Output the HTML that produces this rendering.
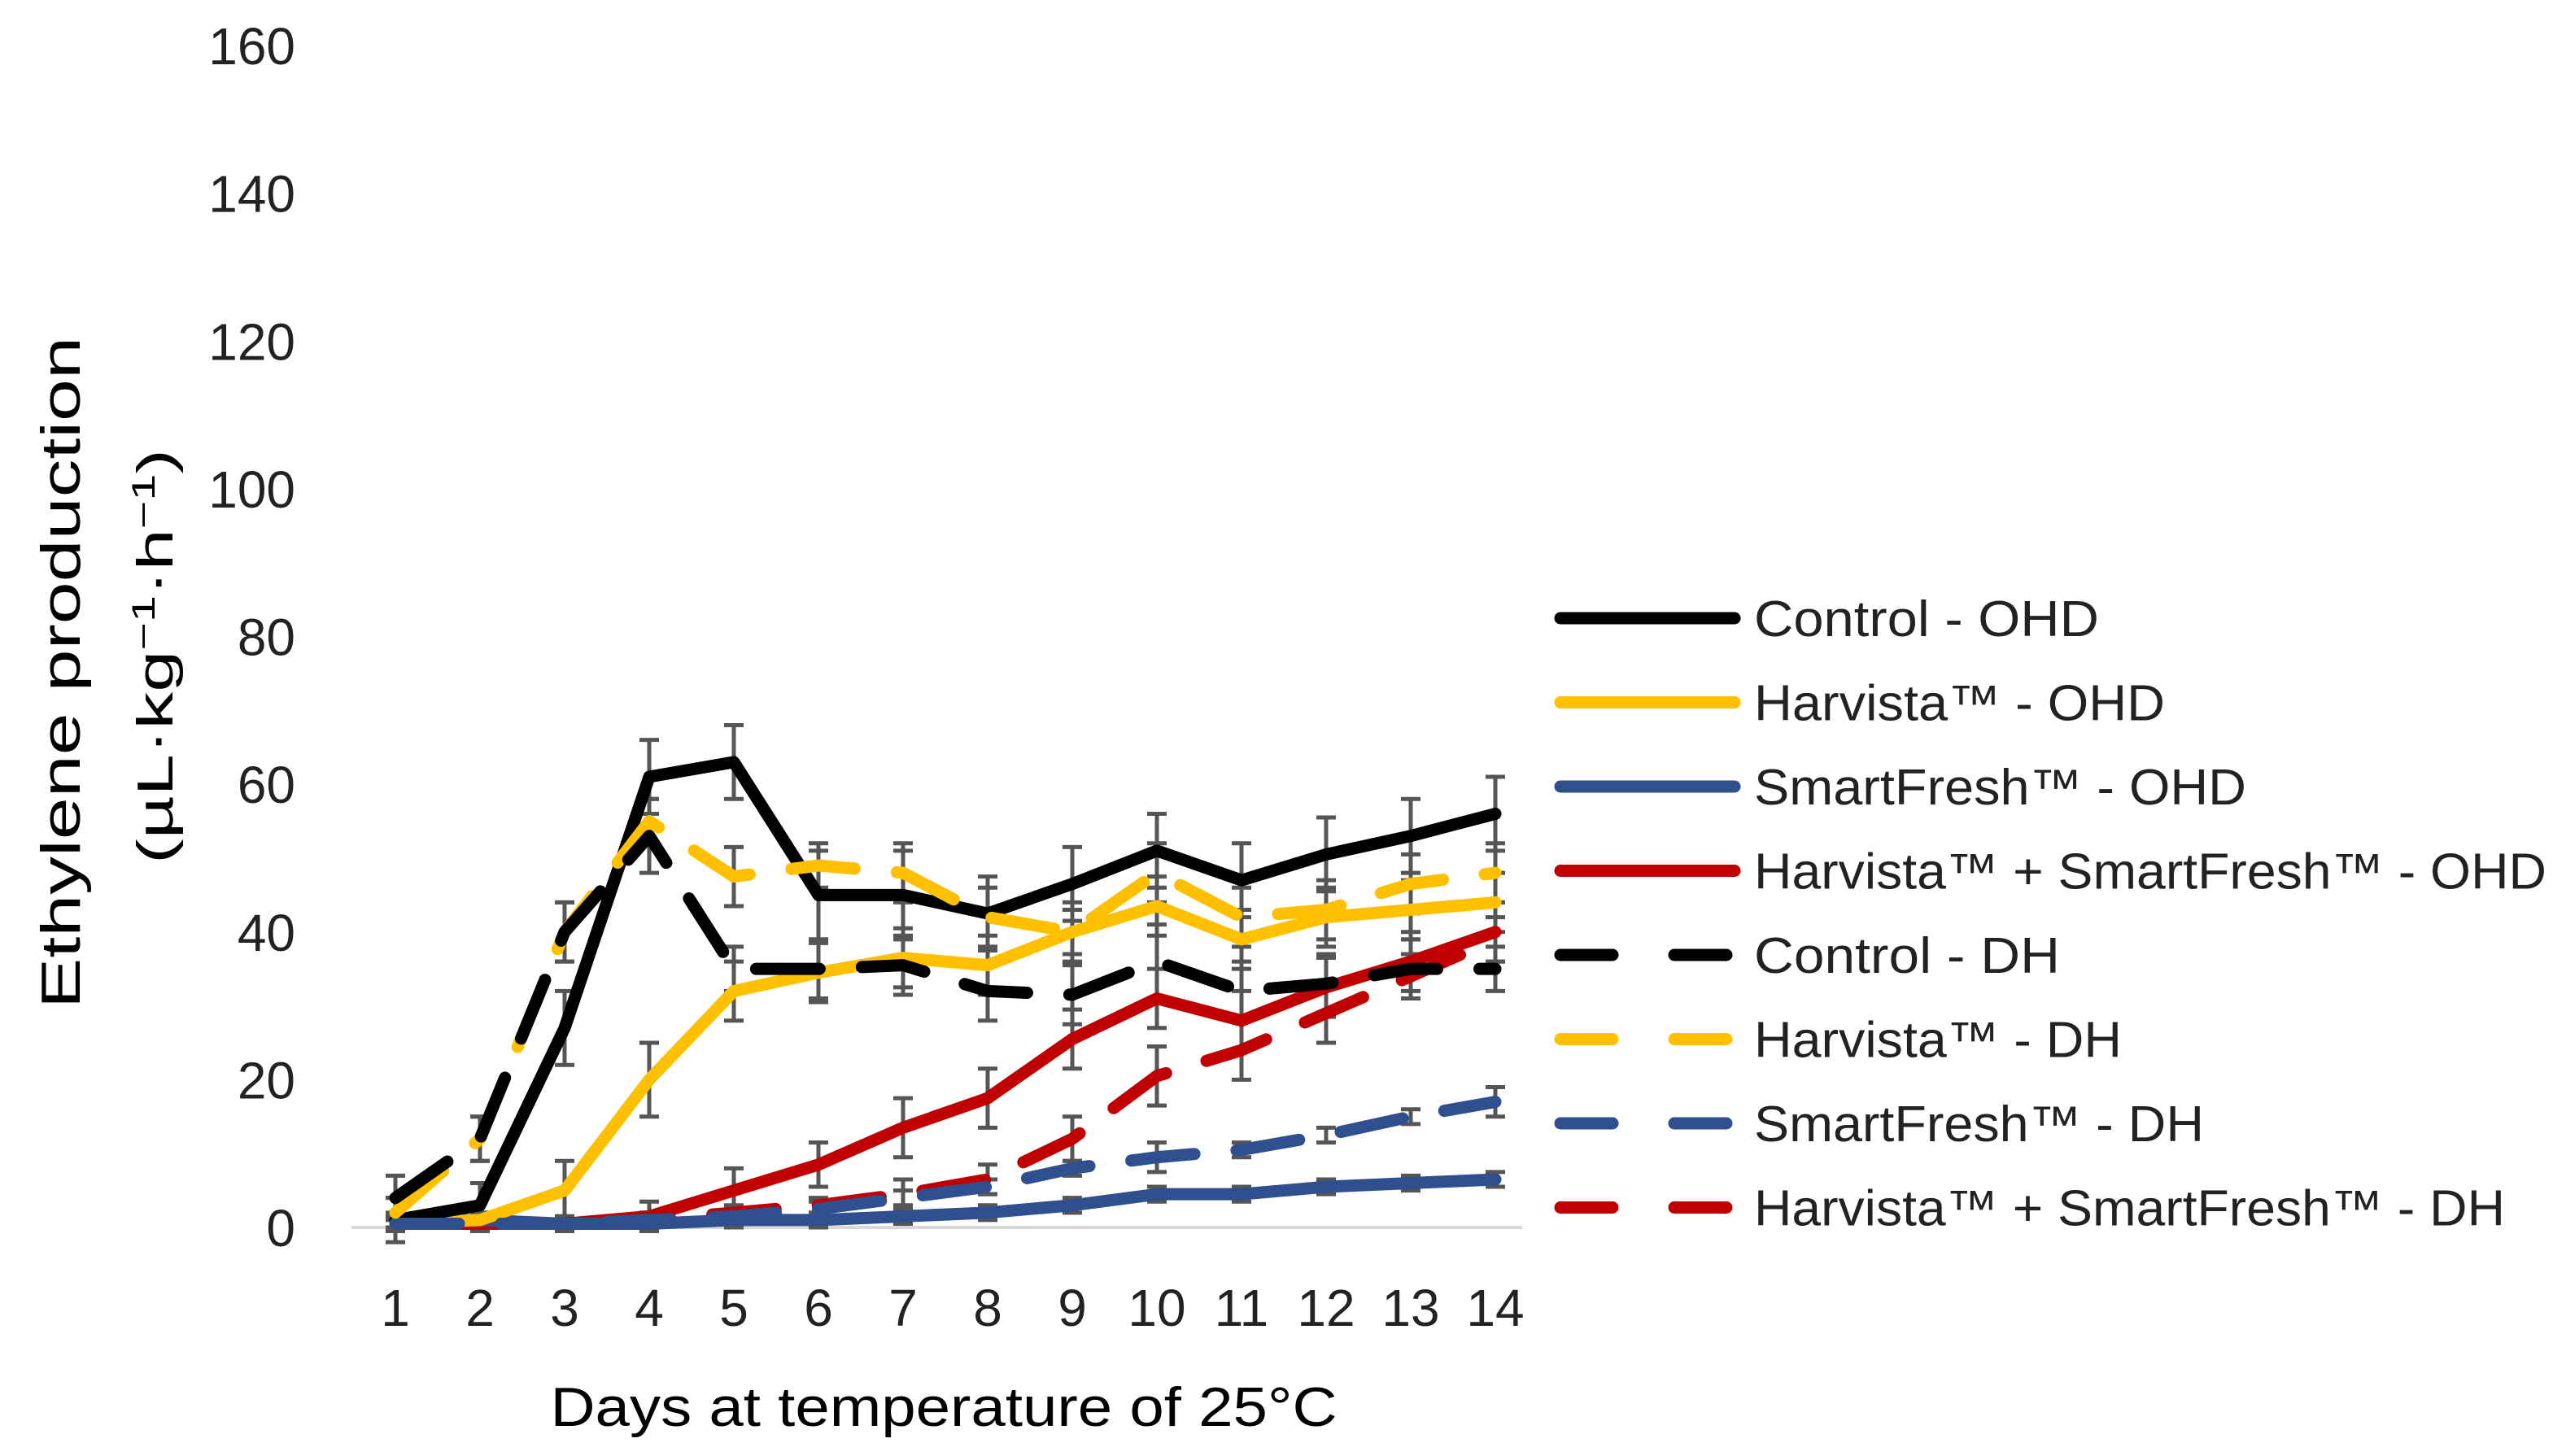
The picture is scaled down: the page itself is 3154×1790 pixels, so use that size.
<!DOCTYPE html>
<html><head><meta charset="utf-8"><style>
html,body{margin:0;padding:0;background:#fff;}
svg{display:block;font-family:"Liberation Sans",sans-serif;}
</style></head><body>
<svg id="chart" width="3154" height="1790" viewBox="0 0 3154 1790">
<g id="yticks"></g>
<g id="xticks"></g>
<line x1="432" y1="1509" x2="1871" y2="1509" stroke="#d9d9d9" stroke-width="4"/>
<g id="errs"></g>
<g id="lines"></g>
<text transform="translate(98,827) rotate(-90)" text-anchor="middle" font-size="68" textLength="826" lengthAdjust="spacingAndGlyphs">Ethylene production</text>
<text transform="translate(212,807) rotate(-90)" text-anchor="middle" font-size="62" textLength="510" lengthAdjust="spacingAndGlyphs">(µL·kg<tspan dy="-22" font-size="40">−1</tspan><tspan dy="22">·h</tspan><tspan dy="-22" font-size="40">−1</tspan><tspan dy="22">)</tspan></text>
<text x="1160" y="1753" text-anchor="middle" font-size="68" textLength="967" lengthAdjust="spacingAndGlyphs">Days at temperature of 25°C</text>
<g id="legend"></g>
</svg>
<script>
const days = [1,2,3,4,5,6,7,8,9,10,11,12,13,14];
const yTicks = [0,20,40,60,80,100,120,140,160];
const seriesNames = ["Control - OHD","Harvista™ - OHD","SmartFresh™ - OHD","Harvista™ + SmartFresh™ - OHD","Control - DH","Harvista™ - DH","SmartFresh™ - DH","Harvista™ + SmartFresh™ - DH"];
const controlOHD = [1,3,27,61,63,45,45,42.5,46.5,51,47,50.5,53,56];
const harvistaOHD = [0.5,1,5,20,32,34.5,36.5,35.5,40,43.5,39,42,43,44];
const smartOHD = [1,1,0.5,0.5,1,1,1.5,2,3,4.5,4.5,5.5,6,6.5];
const hsOHD = [0.5,0.5,0.5,1.5,5,8.5,13.5,17.5,25.5,31,28,32.5,36,40];
const controlDH = [4,12,40,53,35,35,35.5,32,31.5,36,32,33,35,35];
const harvistaDH = [2,12,40,55,47.5,49,48,42,40,48,42,43,46.5,48];
const smartDH = [0.5,0.5,0.5,1,1.5,2.5,4,5.5,8,9.5,10.5,12.5,15,17];
const hsDH = [0.5,0.5,0.5,1,2,3,4.5,6.5,12,20.5,24,29,34,39];
const controlOHDErr = [3,3,5,5,5,6,6,5,5,5,5,5,5,5];
const harvistaOHDErr = [1,1,4,5,4,4,4,4,4,4,4,4,4,4];
const smartOHDErr = [1,1,1,1,1,1,1,1,1,1,1,1,1,1];
const hsOHDErr = [1,1,1,2,3,3,4,4,4,4,4,4,4,4];
const controlDHErr = [3,3,4,5,3,4,4,4,4,5,4,4,4,3];
const harvistaDHErr = [2,3,4,3,4,3,4,4,3,4,4,4,4,4];
const smartDHErr = [1,1,1,1,1,1,1,1,1,2,1,1,1,2];
const hsDHErr = [1,1,1,1,1,1,2,2,3,4,4,4,3,3];

const NS="http://www.w3.org/2000/svg";
const X0=486, X1=1838, Y0=1509, Y1=56;
function xs(d){return X0+(d-1)*(X1-X0)/13;}
function ys(v){return Y0-v*(Y0-Y1)/160;}
function mk(tag,attrs,parent){const e=document.createElementNS(NS,tag);for(const k in attrs)e.setAttribute(k,attrs[k]);parent.appendChild(e);return e;}

const yg=document.getElementById('yticks');
yTicks.forEach(v=>{const t=mk('text',{x:363,y:ys(v)+23,'text-anchor':'end','font-size':64,fill:'#222'},yg);


t.textContent=v;});
const xg=document.getElementById('xticks');
days.forEach(d=>{const t=mk('text',{x:xs(d),y:1630,'text-anchor':'middle','font-size':64,fill:'#222'},xg);


t.textContent=d;});

const colors=["#000000","#ffc000","#2f4f8f","#c00000","#000000","#ffc000","#2f4f8f","#c00000"];
const values=[controlOHD,harvistaOHD,smartOHD,hsOHD,controlDH,harvistaDH,smartDH,hsDH];
const errors=[controlOHDErr,harvistaOHDErr,smartOHDErr,hsOHDErr,controlDHErr,harvistaDHErr,smartDHErr,hsDHErr];
const dashed=[false,false,false,false,true,true,true,true];

const eg=document.getElementById('errs');
values.forEach((vals,i)=>{vals.forEach((v,j)=>{
  const x=xs(days[j]),e=errors[i][j];
  const p=mk('path',{d:`M${x},${ys(v+e)}V${ys(v-e)}M${x-12},${ys(v+e)}h24M${x-12},${ys(v-e)}h24`,stroke:'#555',"stroke-width":5,fill:'none'},eg);
  
  
});});

const lg=document.getElementById('lines');
[3,2,1,0,7,6,5,4].forEach(i=>{
  const pts=values[i].map((v,j)=>xs(days[j])+','+ys(v)).join(' ');
  const a={points:pts,fill:'none',stroke:colors[i],'stroke-width':15,'stroke-linejoin':'round','stroke-linecap':'round'};
  if(dashed[i]){a['stroke-dasharray']='78 52';}
  const pl=mk('polyline',a,lg);
  
  
});

const leg=document.getElementById('legend');
const legW=[424,505,605,974,376,452,553,923];
seriesNames.forEach((n,i)=>{
  const y=760+i*103.5;
  const a={x1:1918,y1:y,x2:2132,y2:y,stroke:colors[i],'stroke-width':15,'stroke-linecap':'round'};
  if(dashed[i]){a['stroke-dasharray']='64 76';}
  const l=mk('line',a,leg);
  
  
  const t=mk('text',{x:2156,y:y+22,'font-size':62,fill:'#222',textLength:legW[i],lengthAdjust:'spacingAndGlyphs'},leg);
  
  
  t.textContent=n;
});
</script>
</body></html>
